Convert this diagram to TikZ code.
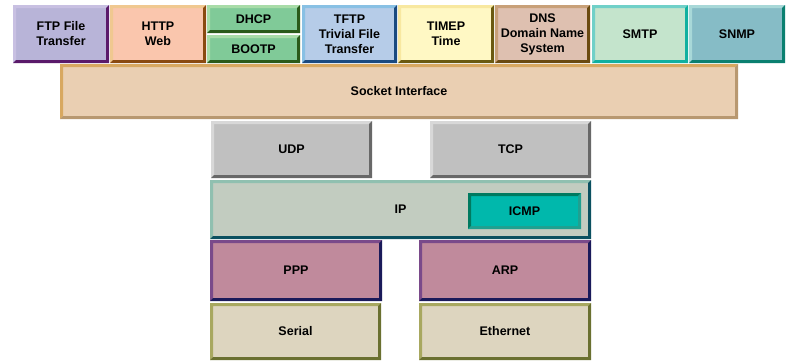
\documentclass[tikz,border=0pt]{standalone}
\usepackage{fontspec}
\setmainfont{Liberation Sans}
\definecolor{ftpF}{HTML}{B8B4D8}\definecolor{ftpL}{HTML}{C8C0E2}\definecolor{ftpD}{HTML}{5A1A6A}
\definecolor{httpF}{HTML}{FAC6AD}\definecolor{httpL}{HTML}{F0C890}\definecolor{httpD}{HTML}{8A4A10}
\definecolor{dhcpF}{HTML}{80CA98}\definecolor{dhcpL}{HTML}{A8DCA8}\definecolor{dhcpD}{HTML}{2A5A1A}
\definecolor{tftpF}{HTML}{B6CCE8}\definecolor{tftpL}{HTML}{88C0E4}\definecolor{tftpD}{HTML}{1A4A80}
\definecolor{timeF}{HTML}{FFF8C4}\definecolor{timeL}{HTML}{F8E8A0}\definecolor{timeD}{HTML}{6A5A10}
\definecolor{dnsF}{HTML}{DEC0B0}\definecolor{dnsL}{HTML}{C8A078}\definecolor{dnsD}{HTML}{6A4A10}
\definecolor{smtpF}{HTML}{C4E4CC}\definecolor{smtpL}{HTML}{70D0C8}\definecolor{smtpD}{HTML}{10B0A0}
\definecolor{snmpF}{HTML}{86BCC6}\definecolor{snmpL}{HTML}{A8D8D8}\definecolor{snmpD}{HTML}{0A8070}
\definecolor{sockF}{HTML}{EACFB2}\definecolor{sockL}{HTML}{D8A860}\definecolor{sockD}{HTML}{B89870}
\definecolor{trF}{HTML}{C0C0C0}\definecolor{trL}{HTML}{D8D8D8}\definecolor{trD}{HTML}{686868}
\definecolor{ipF}{HTML}{C2CCC0}\definecolor{ipL}{HTML}{90C0B0}\definecolor{ipD}{HTML}{0A5060}
\definecolor{icmpF}{HTML}{00B8AC}\definecolor{icmpL}{HTML}{007A60}\definecolor{icmpD}{HTML}{20A090}
\definecolor{pppF}{HTML}{C08A9C}\definecolor{pppL}{HTML}{7A4A8A}\definecolor{pppD}{HTML}{1A1A5A}
\definecolor{serF}{HTML}{DDD5BF}\definecolor{serL}{HTML}{A8A860}\definecolor{serD}{HTML}{6A7030}
\tikzset{
  layerbox/.style n args={3}{
    draw=none, fill=#1, inner sep=0pt, outer sep=0pt, anchor=north west,
    align=center, text=black,
    font=\fontsize{12.5}{15}\selectfont\bfseries,
    path picture={
      \fill[#2] (path picture bounding box.south west) -- (path picture bounding box.north west)
        -- (path picture bounding box.north east)
        -- ([xshift=-3pt,yshift=-3pt]path picture bounding box.north east)
        -- ([xshift=3pt,yshift=-3pt]path picture bounding box.north west)
        -- ([xshift=3pt,yshift=3pt]path picture bounding box.south west) -- cycle;
      \fill[#3] (path picture bounding box.south west) -- (path picture bounding box.south east)
        -- (path picture bounding box.north east)
        -- ([xshift=-3pt,yshift=-3pt]path picture bounding box.north east)
        -- ([xshift=-3pt,yshift=3pt]path picture bounding box.south east)
        -- ([xshift=3pt,yshift=3pt]path picture bounding box.south west) -- cycle;
    }
  }
}
\begin{document}
\begin{tikzpicture}[x=1pt,y=-1pt]
\useasboundingbox[fill=white] (0,0) rectangle (786,360);
% application layer
\node[layerbox={ftpF}{ftpL}{ftpD}, minimum width=96pt, minimum height=58pt] (ftp) at (13,5) {FTP File\\Transfer};
\node[layerbox={httpF}{httpL}{httpD}, minimum width=96pt, minimum height=58pt] (http) at (110,5) {HTTP\\Web};
\node[layerbox={dhcpF}{dhcpL}{dhcpD}, minimum width=93pt, minimum height=28pt] (dhcp) at (207,5) {DHCP};
\node[layerbox={dhcpF}{dhcpL}{dhcpD}, minimum width=93pt, minimum height=28pt] (bootp) at (207,35) {BOOTP};
\node[layerbox={tftpF}{tftpL}{tftpD}, minimum width=95pt, minimum height=58pt] (tftp) at (302,5) {TFTP\\Trivial File\\Transfer};
\node[layerbox={timeF}{timeL}{timeD}, minimum width=96pt, minimum height=58pt] (timep) at (398,5) {TIMEP\\Time};
\node[layerbox={dnsF}{dnsL}{dnsD}, minimum width=95pt, minimum height=58pt] (dns) at (495,5) {DNS\\Domain Name\\System};
\node[layerbox={smtpF}{smtpL}{smtpD}, minimum width=96pt, minimum height=58pt] (smtp) at (592,5) {SMTP};
\node[layerbox={snmpF}{snmpL}{snmpD}, minimum width=96pt, minimum height=58pt] (snmp) at (689,5) {SNMP};
% socket
\node[layerbox={sockF}{sockL}{sockD}, minimum width=678pt, minimum height=55pt] (sock) at (60,64) {Socket Interface};
% transport
\node[layerbox={trF}{trL}{trD}, minimum width=161pt, minimum height=57pt] (udp) at (211,121) {UDP};
\node[layerbox={trF}{trL}{trD}, minimum width=161pt, minimum height=57pt] (tcp) at (430,121) {TCP};
% network
\node[layerbox={ipF}{ipL}{ipD}, minimum width=381pt, minimum height=59pt] (ip) at (210,180) {IP};
\node[layerbox={icmpF}{icmpL}{icmpD}, minimum width=113pt, minimum height=36pt] (icmp) at (468,193) {ICMP};
% link
\node[layerbox={pppF}{pppL}{pppD}, minimum width=172pt, minimum height=61pt] (ppp) at (210,240) {PPP};
\node[layerbox={pppF}{pppL}{pppD}, minimum width=172pt, minimum height=61pt] (arp) at (419,240) {ARP};
\node[layerbox={serF}{serL}{serD}, minimum width=171pt, minimum height=57pt] (serial) at (210,303) {Serial};
\node[layerbox={serF}{serL}{serD}, minimum width=172pt, minimum height=57pt] (eth) at (419,303) {Ethernet};
\end{tikzpicture}
\end{document}
